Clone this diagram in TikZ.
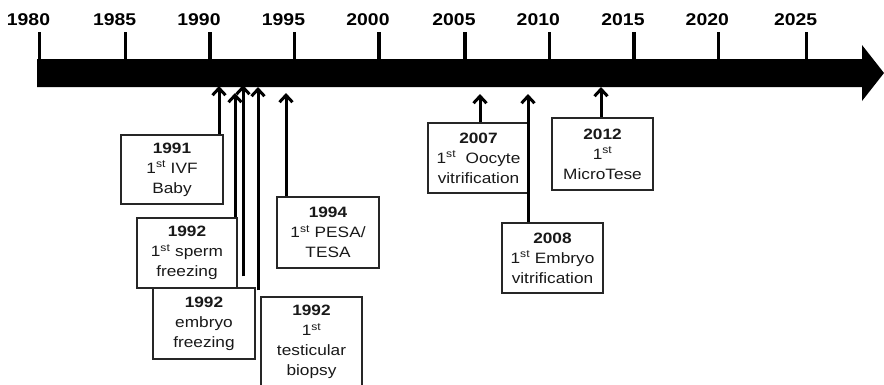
\documentclass[tikz,border=0pt]{standalone}
\usepackage{fontspec}
\setmainfont{Liberation Sans}[FakeStretch=1.15]
\newfontfamily\yearfont{Liberation Sans}[FakeStretch=1.14]
\usetikzlibrary{arrows.meta}
\tikzset{
  yearlabel/.style={font=\yearfont\bfseries\fontsize{17}{20}\selectfont, inner sep=0pt},
  yeartick/.style={line width=3.5pt},
  evbox/.style={draw=black!85, line width=1.4pt, fill=white, align=center,
    inner sep=0pt, text=black!90, font=\fontsize{15}{20}\selectfont},
  evarrow/.style={line width=3pt, black,
    -{Straight Barb[length=7pt,width=13pt,line width=3pt]}}
}
\begin{document}
\begin{tikzpicture}[x=1pt,y=-1pt]
\useasboundingbox (0,0) rectangle (884,384);
\clip (0,0) rectangle (884,384);
% main timeline bar
\fill[black] (37,59) -- (862,59) -- (862,45) -- (884,73) -- (862,101) -- (862,87) -- (37,87) -- cycle;
% ticks and years
\foreach \yr/\xx in {1980/39.5,1985/125.7,1990/210,1995/294.5,2000/379,2005/465,2010/549.3,2015/634,2020/718.3,2025/806.7}{
  \draw[yeartick] (\xx,32) -- (\xx,59);
  \node[yearlabel] (y\yr) at (\xx-11,20) {\yr};
}
% event boxes
\node[evbox, minimum width=102pt, minimum height=69pt] (b1991) at (172,169.5)
  {\textbf{1991}\\1\textsuperscript{st} IVF\\Baby};
\node[evbox, minimum width=100pt, minimum height=70pt] (bSperm) at (187,253)
  {\textbf{1992}\\1\textsuperscript{st} sperm\\freezing};
\node[evbox, minimum width=102pt, minimum height=71pt] (bEmbryo) at (204,323.5)
  {\textbf{1992}\\embryo\\freezing};
\node[evbox, minimum width=101pt, minimum height=90pt] (bBiopsy) at (311.5,342)
  {\textbf{1992}\\1\textsuperscript{st}\\testicular\\biopsy};
\node[evbox, minimum width=102pt, minimum height=71pt] (b1994) at (328,232.5)
  {\textbf{1994}\\1\textsuperscript{st} PESA/\\TESA};
\node[evbox, minimum width=101pt, minimum height=70pt] (b2007) at (478.5,158)
  {\textbf{2007}\\1\textsuperscript{st}~ Oocyte\\vitrification};
\node[evbox, minimum width=101pt, minimum height=70pt] (b2008) at (552.5,258)
  {\textbf{2008}\\1\textsuperscript{st} Embryo\\vitrification};
\node[evbox, minimum width=101pt, minimum height=72pt] (b2012) at (602.5,154)
  {\textbf{2012}\\1\textsuperscript{st}\\MicroTese};
% arrow tips at the bar
\coordinate (t1991) at (219,86);
\coordinate (tSperm) at (235,93);
\coordinate (tEmbryo) at (243,85);
\coordinate (tBiopsy) at (258,87);
\coordinate (t1994) at (286,93);
\coordinate (t2007) at (480,94);
\coordinate (t2008) at (528,94);
\coordinate (t2012) at (601,87);
% arrows
\draw[evarrow] (b1991.north -| t1991) -- (t1991);
\draw[evarrow] (bSperm.north -| tSperm) -- (tSperm);
\draw[evarrow] ([yshift=11pt]bEmbryo.north -| tEmbryo) -- (tEmbryo);
\draw[evarrow] ([yshift=6pt]bBiopsy.north -| tBiopsy) -- (tBiopsy);
\draw[evarrow] (b1994.north -| t1994) -- (t1994);
\draw[evarrow] (b2007.north -| t2007) -- (t2007);
\draw[evarrow] (b2008.north -| t2008) -- (t2008);
\draw[evarrow] (b2012.north -| t2012) -- (t2012);
\end{tikzpicture}
\end{document}
